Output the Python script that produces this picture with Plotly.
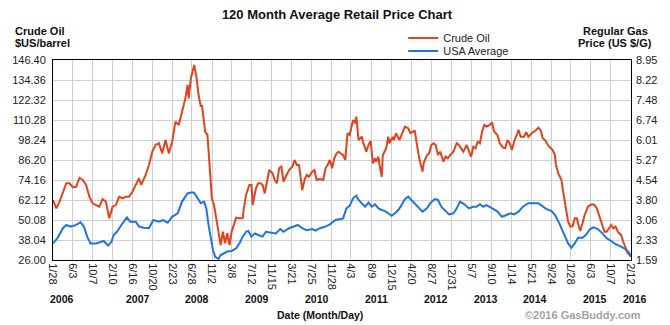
import pandas as pd
import numpy as np
import plotly.graph_objects as go

# ---------------- data ----------------
start_date = "2006-01-28"
end_date = "2016-02-13"

# weeks since start_date, crude oil ($US/barrel)
oil_week = [0, 3, 6, 9, 12, 15, 18, 21, 24, 27, 30, 33, 36, 39, 42, 45, 48, 51, 54, 57,
            60, 63, 66, 69, 72, 75, 78, 80, 84, 87, 90, 93, 96, 99, 102, 105, 108, 111, 114, 117,
            120, 122, 123, 125, 128, 129, 130, 132, 134, 135, 138, 140, 141, 143, 144, 146, 148, 150, 152, 154,
            156, 158, 160, 162, 164, 166, 169, 172, 173, 175, 178, 180, 181, 184, 186, 188, 190, 192, 194, 196,
            199, 201, 203, 205, 207, 209, 211, 214, 217, 219, 221, 223, 226, 228, 230, 232, 235, 237, 239, 242,
            245, 247, 249, 251, 253, 255, 257, 259, 262, 263, 265, 267, 269, 272, 274, 275, 277, 280, 281, 284,
            286, 288, 290, 292, 293, 295, 296, 298, 299, 302, 304, 305, 308, 309, 311, 314, 316, 319, 322, 324,
            326, 328, 330, 332, 335, 336, 339, 341, 343, 345, 347, 349, 351, 354, 356, 358, 360, 363, 366, 368,
            370, 372, 375, 377, 379, 381, 383, 385, 387, 389, 391, 393, 396, 398, 400, 403, 405, 408, 410, 412,
            414, 416, 418, 421, 422, 424, 427, 429, 431, 434, 436, 438, 440, 442, 444, 446, 449, 451, 453, 455,
            456, 458, 461, 462, 464, 465, 467, 469, 471, 473, 475, 476, 478, 480, 482, 485, 487, 489, 491, 493,
            495, 497, 500, 502, 504, 506, 508, 510, 512, 515, 517, 519, 521, 523, 524]
oil_price = [62.1, 57.1, 61.1, 66.1, 72.2, 72.2, 69.8, 70.1, 75.5, 74.2, 71.2, 64.1, 60.1, 59.1, 58.1, 62.7, 61.1, 51.1, 58.1, 59.1,
             64.1, 63.1, 64.1, 64.1, 67.1, 71.2, 75.2, 71.2, 77.2, 83.2, 91.2, 95.2, 96.3, 90.2, 98.2, 90.2, 97.2, 109.3, 107.3, 115.3,
             123.3, 131.4, 123.3, 135.4, 143.4, 140.0, 136.4, 125.3, 118.3, 119.3, 103.2, 101.3, 89.2, 73.1, 63.1, 59.1, 51.1, 43.0, 35.0, 43.0,
             36.1, 42.1, 35.0, 43.0, 47.1, 51.5, 51.1, 51.1, 57.1, 65.1, 71.2, 71.2, 59.1, 69.2, 72.2, 72.2, 71.2, 66.1, 73.1, 80.2,
             78.2, 74.2, 72.2, 81.2, 82.2, 73.1, 76.1, 80.2, 82.2, 86.2, 83.2, 83.2, 68.1, 74.2, 77.2, 76.1, 79.2, 80.2, 74.2, 74.8,
             74.2, 81.2, 83.2, 86.2, 81.2, 87.2, 90.2, 91.2, 89.5, 89.2, 86.2, 102.3, 101.3, 110.3, 108.3, 112.3, 98.2, 100.2, 97.2, 91.2,
             95.2, 97.6, 84.2, 87.2, 85.2, 88.2, 83.2, 76.1, 89.2, 93.2, 100.2, 96.3, 100.2, 98.2, 102.3, 98.2, 101.3, 106.3, 105.3, 102.3,
             103.2, 103.7, 95.2, 87.2, 79.2, 84.2, 89.2, 90.2, 95.2, 96.3, 95.2, 89.2, 91.2, 85.2, 88.2, 87.2, 89.2, 91.2, 96.3, 95.2,
             93.2, 91.2, 95.2, 92.2, 88.2, 94.2, 93.2, 97.2, 96.3, 103.2, 107.3, 106.3, 107.3, 108.9, 103.2, 101.3, 96.3, 93.6, 93.2, 98.2,
             96.3, 92.2, 97.2, 102.3, 104.3, 100.2, 100.2, 102.9, 100.2, 102.3, 103.2, 104.3, 105.6, 104.3, 99.3, 98.2, 94.8, 93.2, 92.2, 89.2,
             83.2, 78.2, 74.2, 69.2, 61.1, 55.1, 49.1, 46.1, 46.1, 51.1, 51.1, 48.1, 43.5, 48.1, 53.1, 58.1, 59.1, 59.5, 59.1, 57.1,
             53.1, 48.1, 43.0, 43.0, 45.1, 47.1, 45.1, 46.1, 43.0, 41.1, 37.0, 34.0, 30.0, 29.0, 28.0]

# weeks since start_date, USA average regular gas (US $/G)
gas_week = [0, 4, 9, 12, 16, 21, 25, 28, 31, 34, 39, 43, 46, 50, 53, 55, 58, 62, 67, 70,
            75, 78, 82, 87, 91, 96, 100, 104, 108, 113, 117, 122, 126, 128, 131, 134, 137, 139, 141, 143,
            145, 147, 150, 152, 155, 158, 162, 166, 169, 172, 175, 177, 180, 183, 186, 190, 193, 197, 202, 206,
            209, 214, 218, 222, 226, 230, 235, 238, 242, 247, 251, 256, 261, 263, 266, 269, 272, 275, 277, 280,
            283, 286, 289, 292, 295, 298, 301, 304, 307, 310, 313, 316, 319, 322, 325, 328, 331, 335, 339, 342,
            346, 349, 352, 355, 359, 363, 366, 369, 373, 377, 381, 384, 387, 390, 393, 399, 403, 407, 411, 415,
            418, 422, 426, 431, 435, 440, 443, 447, 452, 455, 459, 463, 467, 470, 473, 476, 480, 483, 487, 490,
            494, 498, 502, 506, 510, 515, 519, 522, 524]
gas_price = [2.20, 2.39, 2.76, 2.88, 2.82, 2.88, 2.98, 2.82, 2.45, 2.20, 2.20, 2.26, 2.29, 2.12, 2.26, 2.51, 2.63, 2.88, 3.16, 3.00,
             3.00, 2.82, 2.78, 2.76, 3.06, 3.00, 3.06, 2.96, 3.18, 3.31, 3.74, 4.04, 4.08, 4.06, 3.86, 3.68, 3.74, 3.49, 2.88, 2.33,
             1.96, 1.71, 1.63, 1.77, 1.84, 1.90, 1.92, 2.02, 2.20, 2.45, 2.63, 2.66, 2.45, 2.57, 2.51, 2.45, 2.63, 2.61, 2.57, 2.73,
             2.63, 2.76, 2.82, 2.88, 2.76, 2.69, 2.73, 2.67, 2.76, 2.82, 2.90, 3.06, 3.10, 3.12, 3.49, 3.59, 3.86, 3.96, 3.80, 3.68,
             3.55, 3.70, 3.55, 3.64, 3.49, 3.43, 3.39, 3.31, 3.22, 3.31, 3.43, 3.61, 3.83, 3.92, 3.80, 3.68, 3.55, 3.37, 3.49, 3.68,
             3.83, 3.80, 3.55, 3.43, 3.27, 3.31, 3.49, 3.74, 3.64, 3.49, 3.55, 3.55, 3.64, 3.55, 3.61, 3.47, 3.37, 3.18, 3.25, 3.31,
             3.27, 3.37, 3.55, 3.68, 3.68, 3.68, 3.59, 3.47, 3.39, 3.25, 2.94, 2.57, 2.20, 2.04, 2.20, 2.41, 2.41, 2.51, 2.73, 2.79,
             2.73, 2.57, 2.39, 2.29, 2.17, 2.08, 1.99, 1.87, 1.71]

tick_dates = ["2006-01-28", "2006-06-03", "2006-10-07", "2007-02-10", "2007-06-16", "2007-10-20",
              "2008-02-23", "2008-06-28", "2008-11-02", "2009-03-08", "2009-07-12", "2009-11-15",
              "2010-03-21", "2010-07-25", "2010-11-28", "2011-04-03", "2011-08-09", "2011-12-15",
              "2012-04-20", "2012-08-27", "2012-12-31", "2013-05-07", "2013-09-10", "2014-01-14",
              "2014-05-21", "2014-09-24", "2015-01-28", "2015-06-03", "2015-10-07", "2016-02-12"]
tick_labels = ["1/28", "6/3", "10/7", "2/10", "6/16", "10/20", "2/23", "6/28", "11/2", "3/8",
               "7/12", "11/15", "3/21", "7/25", "11/28", "4/3", "8/9", "12/15", "4/20", "8/27",
               "12/31", "5/7", "9/10", "1/14", "5/21", "9/24", "1/28", "6/3", "10/7", "2/12"]

oil_tick_labels = ["26.00", "38.04", "50.08", "62.12", "74.16", "86.20", "98.24",
                   "110.28", "122.32", "134.36", "146.40"]
gas_tick_labels = ["1.59", "2.33", "3.06", "3.80", "4.54", "5.27", "6.01",
                   "6.74", "7.48", "8.22", "8.95"]

year_labels = ["2006", "2007", "2008", "2009", "2010", "2011", "2012", "2013", "2014", "2015", "2016"]
year_label_px = [59, 135, 195, 255, 315, 375, 435, 485, 535, 595, 635]

assert len(oil_week) == len(oil_price)
assert len(gas_week) == len(gas_price)

# ---------------- figure ----------------
W, H = 670, 325
L, R, T, B = 50, 39, 60, 65
PW, PH = W - L - R, H - T - B
FONT = "Arial, Liberation Sans, sans-serif"


def px_x(px):
    return (px - L) / PW


def px_y(py):
    return (T + PH - py) / PH


start = pd.Timestamp(start_date)
oil_dates = [start + pd.Timedelta(weeks=w) for w in oil_week]
gas_dates = [start + pd.Timedelta(weeks=w) for w in gas_week]

oil_ticks = np.linspace(float(oil_tick_labels[0]), float(oil_tick_labels[-1]), len(oil_tick_labels))
gas_ticks = np.linspace(float(gas_tick_labels[0]), float(gas_tick_labels[-1]), len(gas_tick_labels))

fig = go.Figure()
fig.add_trace(go.Scatter(x=oil_dates, y=oil_price, name="Crude Oil", mode="lines",
                         line=dict(color="#e2431d", width=2), yaxis="y", legend="legend"))
fig.add_trace(go.Scatter(x=gas_dates, y=gas_price, name="USA Average", mode="lines",
                         line=dict(color="#1f74df", width=2), yaxis="y2", legend="legend2"))

grid = "#cfcfcf"
fig.update_layout(
    width=W, height=H,
    margin=dict(l=L, r=R, t=T, b=B, pad=0),
    paper_bgcolor="white", plot_bgcolor="white",
    font=dict(family=FONT, size=11, color="#222"),
    title=dict(text="<b>120 Month Average Retail Price Chart</b>", x=337 / W, xanchor="center",
               y=1 - 14 / H, yanchor="middle", font=dict(size=13, color="#111", family=FONT)),
    xaxis=dict(type="date", range=[start_date, end_date], tickmode="array",
               tickvals=tick_dates, ticktext=tick_labels, tickangle=90,
               showgrid=True, gridcolor=grid, gridwidth=1, showline=True, linecolor="black",
               linewidth=1, mirror=True, ticks="", zeroline=False,
               tickfont=dict(size=11, color="#222")),
    yaxis=dict(range=[oil_ticks[0], oil_ticks[-1]], tickmode="array", tickvals=oil_ticks,
               ticktext=oil_tick_labels, showgrid=True, gridcolor=grid, gridwidth=1,
               showline=True, linecolor="black", linewidth=1, mirror=True, ticks="",
               zeroline=False, ticklabelstandoff=4, tickfont=dict(size=11, color="#222")),
    yaxis2=dict(range=[gas_ticks[0], gas_ticks[-1]], tickmode="array", tickvals=gas_ticks,
                ticktext=gas_tick_labels, overlaying="y", side="right", showgrid=False,
                showline=False, ticks="", zeroline=False, ticklabelstandoff=4,
                tickfont=dict(size=11, color="#222")),
    legend=dict(x=px_x(402), y=px_y(38), xanchor="left", yanchor="middle",
                bgcolor="rgba(0,0,0,0)", borderwidth=0, font=dict(size=11, color="#222")),
    legend2=dict(x=px_x(402), y=px_y(51), xanchor="left", yanchor="middle",
                 bgcolor="rgba(0,0,0,0)", borderwidth=0, font=dict(size=11, color="#222")),
    showlegend=True,
)

ann = []


def add_text(text, x, y, anchor="center", size=11, color="#111"):
    ann.append(dict(text=text, x=px_x(x), y=px_y(y), xref="paper", yref="paper",
                    xanchor=anchor, yanchor="middle", showarrow=False,
                    font=dict(family=FONT, size=size, color=color)))


add_text("<b>Crude Oil</b>", 10, 31, anchor="left")
add_text("<b>$US/barrel</b>", 10, 43, anchor="left")
add_text("<b>Regular Gas</b>", 615, 31)
add_text("<b>Price (US $/G)</b>", 615, 43)
for lab, xp in zip(year_labels, year_label_px):
    add_text("<b>%s</b>" % lab, xp, 299, size=10.5)
add_text("<b>Date (Month/Day)</b>", 318, 315, size=10.5)
add_text("<b>©2016 GasBuddy.com</b>", 583, 315, size=11, color="#a3a3a3")

fig.update_layout(annotations=ann)

fig.write_html("out.html")
